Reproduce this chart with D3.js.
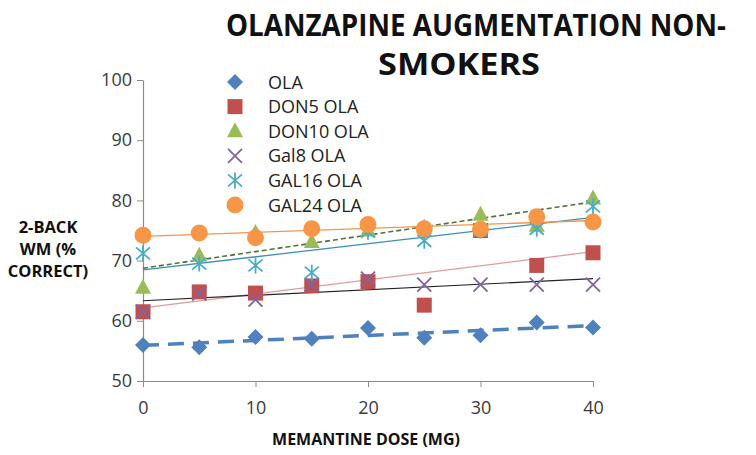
<!DOCTYPE html>
<html>
<head>
<meta charset="utf-8">
<script src="https://cdn.jsdelivr.net/npm/d3@7"></script>
<style>
  body { margin: 0; background: #fff; }
  text { font-family: "Open Sans", sans-serif; }
</style>
</head>
<body>
<script>
// doses (mg) on the x axis
const doses = [0, 5, 10, 15, 20, 25, 30, 35, 40];

// 2-back WM % correct
const ola      = [56.0, 55.6, 57.3, 57.0, 58.8, 57.2, 57.6, 59.7, 58.9];
const don5Ola  = [61.5, 64.8, 64.6, 65.8, 66.5, 62.6, 75.0, 69.2, 71.3];
const don10Ola = [65.5, 70.8, 74.6, 73.1, 75.0, 75.5, 77.6, 75.8, 80.3];
const gal8Ola  = [61.5, 64.5, 63.5, 66.0, 67.0, 66.0, 66.0, 66.0, 66.0];
const gal16Ola = [71.2, 69.5, 69.2, 68.0, 74.8, 73.3, 75.0, 75.3, 79.0];
const gal24Ola = [74.2, 74.6, 73.8, 75.3, 76.0, 75.3, 75.2, 77.3, 76.4];

const seriesNames = ["OLA", "DON5 OLA", "DON10 OLA", "Gal8 OLA", "GAL16 OLA", "GAL24 OLA"];
const xTicks = [0, 10, 20, 30, 40];
const yTicks = [50, 60, 70, 80, 90, 100];

const series = [
  {name: seriesNames[0], values: ola,      color: "#4f81bd", marker: "diamond",
   trend: {stroke: "#4f81bd", width: 3.5, dash: "16,9"}},
  {name: seriesNames[1], values: don5Ola,  color: "#c0504d", marker: "square",
   trend: {stroke: "#e39a98", width: 1.3, dash: null}},
  {name: seriesNames[2], values: don10Ola, color: "#9bbb59", marker: "triangle",
   trend: {stroke: "#56703a", width: 1.6, dash: "5,3"}},
  {name: seriesNames[3], values: gal8Ola,  color: "#8064a2", marker: "x",
   trend: {stroke: "#222222", width: 1.2, dash: null}},
  {name: seriesNames[4], values: gal16Ola, color: "#4bacc6", marker: "star",
   trend: {stroke: "#3d8fb8", width: 1.3, dash: null}},
  {name: seriesNames[5], values: gal24Ola, color: "#f79646", marker: "circle",
   trend: {stroke: "#f79646", width: 1.3, dash: null}}
];

const w = 756, h = 455;

const svg = d3.select("body")
  .append("svg")
  .attr("width", w)
  .attr("height", h);

const xScale = d3.scaleLinear().domain([0, 40]).range([143, 593]);
const yScale = d3.scaleLinear().domain([50, 100]).range([381, 80]);

// least squares trend line for a series
function fit(vals) {
  const mx = d3.mean(doses), my = d3.mean(vals);
  let num = 0, den = 0;
  doses.forEach((x, i) => { num += (x - mx) * (vals[i] - my); den += (x - mx) * (x - mx); });
  const b = num / den;
  return [[0, my - b * mx], [40, my + b * (40 - mx)]];
}

// marker shapes
function drawMarker(g, type, color) {
  if (type === "diamond") {
    g.append("path").attr("d", "M0,-8L8,0L0,8L-8,0Z").attr("fill", color);
  } else if (type === "square") {
    g.append("rect").attr("x", -7.5).attr("y", -7.5).attr("width", 15).attr("height", 15).attr("fill", color);
  } else if (type === "triangle") {
    g.append("path").attr("d", "M0,-9L8,6L-8,6Z").attr("fill", color);
  } else if (type === "x") {
    g.append("path").attr("d", "M-7,-7L7,7M-7,7L7,-7").attr("stroke", color).attr("stroke-width", 1.8).attr("fill", "none");
  } else if (type === "star") {
    g.append("path").attr("d", "M-7,-6L7,6M-7,6L7,-6M0,-8L0,8").attr("stroke", color).attr("stroke-width", 1.8).attr("fill", "none");
  } else if (type === "circle") {
    g.append("circle").attr("r", 8.5).attr("fill", color);
  }
}

// axes
const axisColor = "#8c8c8c";

const xAxis = svg.append("g")
  .attr("transform", "translate(0," + yScale(50) + ")")
  .call(d3.axisBottom(xScale).tickValues(xTicks).tickSize(6).tickSizeOuter(0).tickPadding(14));

const yAxis = svg.append("g")
  .attr("transform", "translate(" + xScale(0) + ",0)")
  .call(d3.axisLeft(yScale).tickValues(yTicks).tickSize(6).tickSizeOuter(0).tickPadding(5));

[xAxis, yAxis].forEach(a => {
  a.select(".domain").attr("stroke", axisColor).attr("stroke-width", 1.2);
  a.selectAll(".tick line").attr("stroke", axisColor);
  a.selectAll(".tick text")
    .attr("fill", "#3a3a3a")
    .style("font-size", "18px")
    .style("font-family", "'Open Sans', sans-serif");
});

// trend lines under markers
const line = d3.line().x(d => xScale(d[0])).y(d => yScale(d[1]));

series.forEach(s => {
  svg.append("path")
    .attr("d", line(fit(s.values)))
    .attr("fill", "none")
    .attr("stroke", s.trend.stroke)
    .attr("stroke-width", s.trend.width)
    .attr("stroke-dasharray", s.trend.dash);
});

// markers, series in order so later ones sit on top
series.forEach(s => {
  s.values.forEach((v, i) => {
    const g = svg.append("g")
      .attr("transform", "translate(" + xScale(doses[i]) + "," + yScale(v) + ")");
    drawMarker(g, s.marker, s.color);
  });
});

// legend
const legend = svg.append("g");
series.forEach((s, i) => {
  const yy = 82 + i * 24.6;
  const g = legend.append("g").attr("transform", "translate(235," + yy + ")");
  drawMarker(g, s.marker, s.color);
  legend.append("text")
    .attr("x", 268)
    .attr("y", yy + 6.5)
    .attr("fill", "#222")
    .style("font-size", "18px")
    .text(s.name);
});

// title
svg.append("text")
  .attr("x", 476)
  .attr("y", 36)
  .attr("text-anchor", "middle")
  .attr("textLength", 500)
  .attr("lengthAdjust", "spacingAndGlyphs")
  .style("font-size", "30px")
  .style("font-weight", "bold")
  .attr("fill", "#111")
  .text("OLANZAPINE AUGMENTATION NON-");

svg.append("text")
  .attr("x", 459)
  .attr("y", 75)
  .attr("text-anchor", "middle")
  .attr("textLength", 162)
  .attr("lengthAdjust", "spacingAndGlyphs")
  .style("font-size", "30px")
  .style("font-weight", "bold")
  .attr("fill", "#111")
  .text("SMOKERS");

// y axis title
const yTitle = ["2-BACK", "WM (%", "CORRECT)"];
yTitle.forEach((t, i) => {
  svg.append("text")
    .attr("x", 48)
    .attr("y", 233 + i * 22)
    .attr("text-anchor", "middle")
    .style("font-size", "16.5px")
    .style("font-weight", "bold")
    .attr("fill", "#111")
    .text(t);
});

// x axis title
svg.append("text")
  .attr("x", 366)
  .attr("y", 445)
  .attr("text-anchor", "middle")
  .style("font-size", "16px")
  .style("font-weight", "bold")
  .attr("fill", "#111")
  .text("MEMANTINE DOSE (MG)");
</script>
</body>
</html>
